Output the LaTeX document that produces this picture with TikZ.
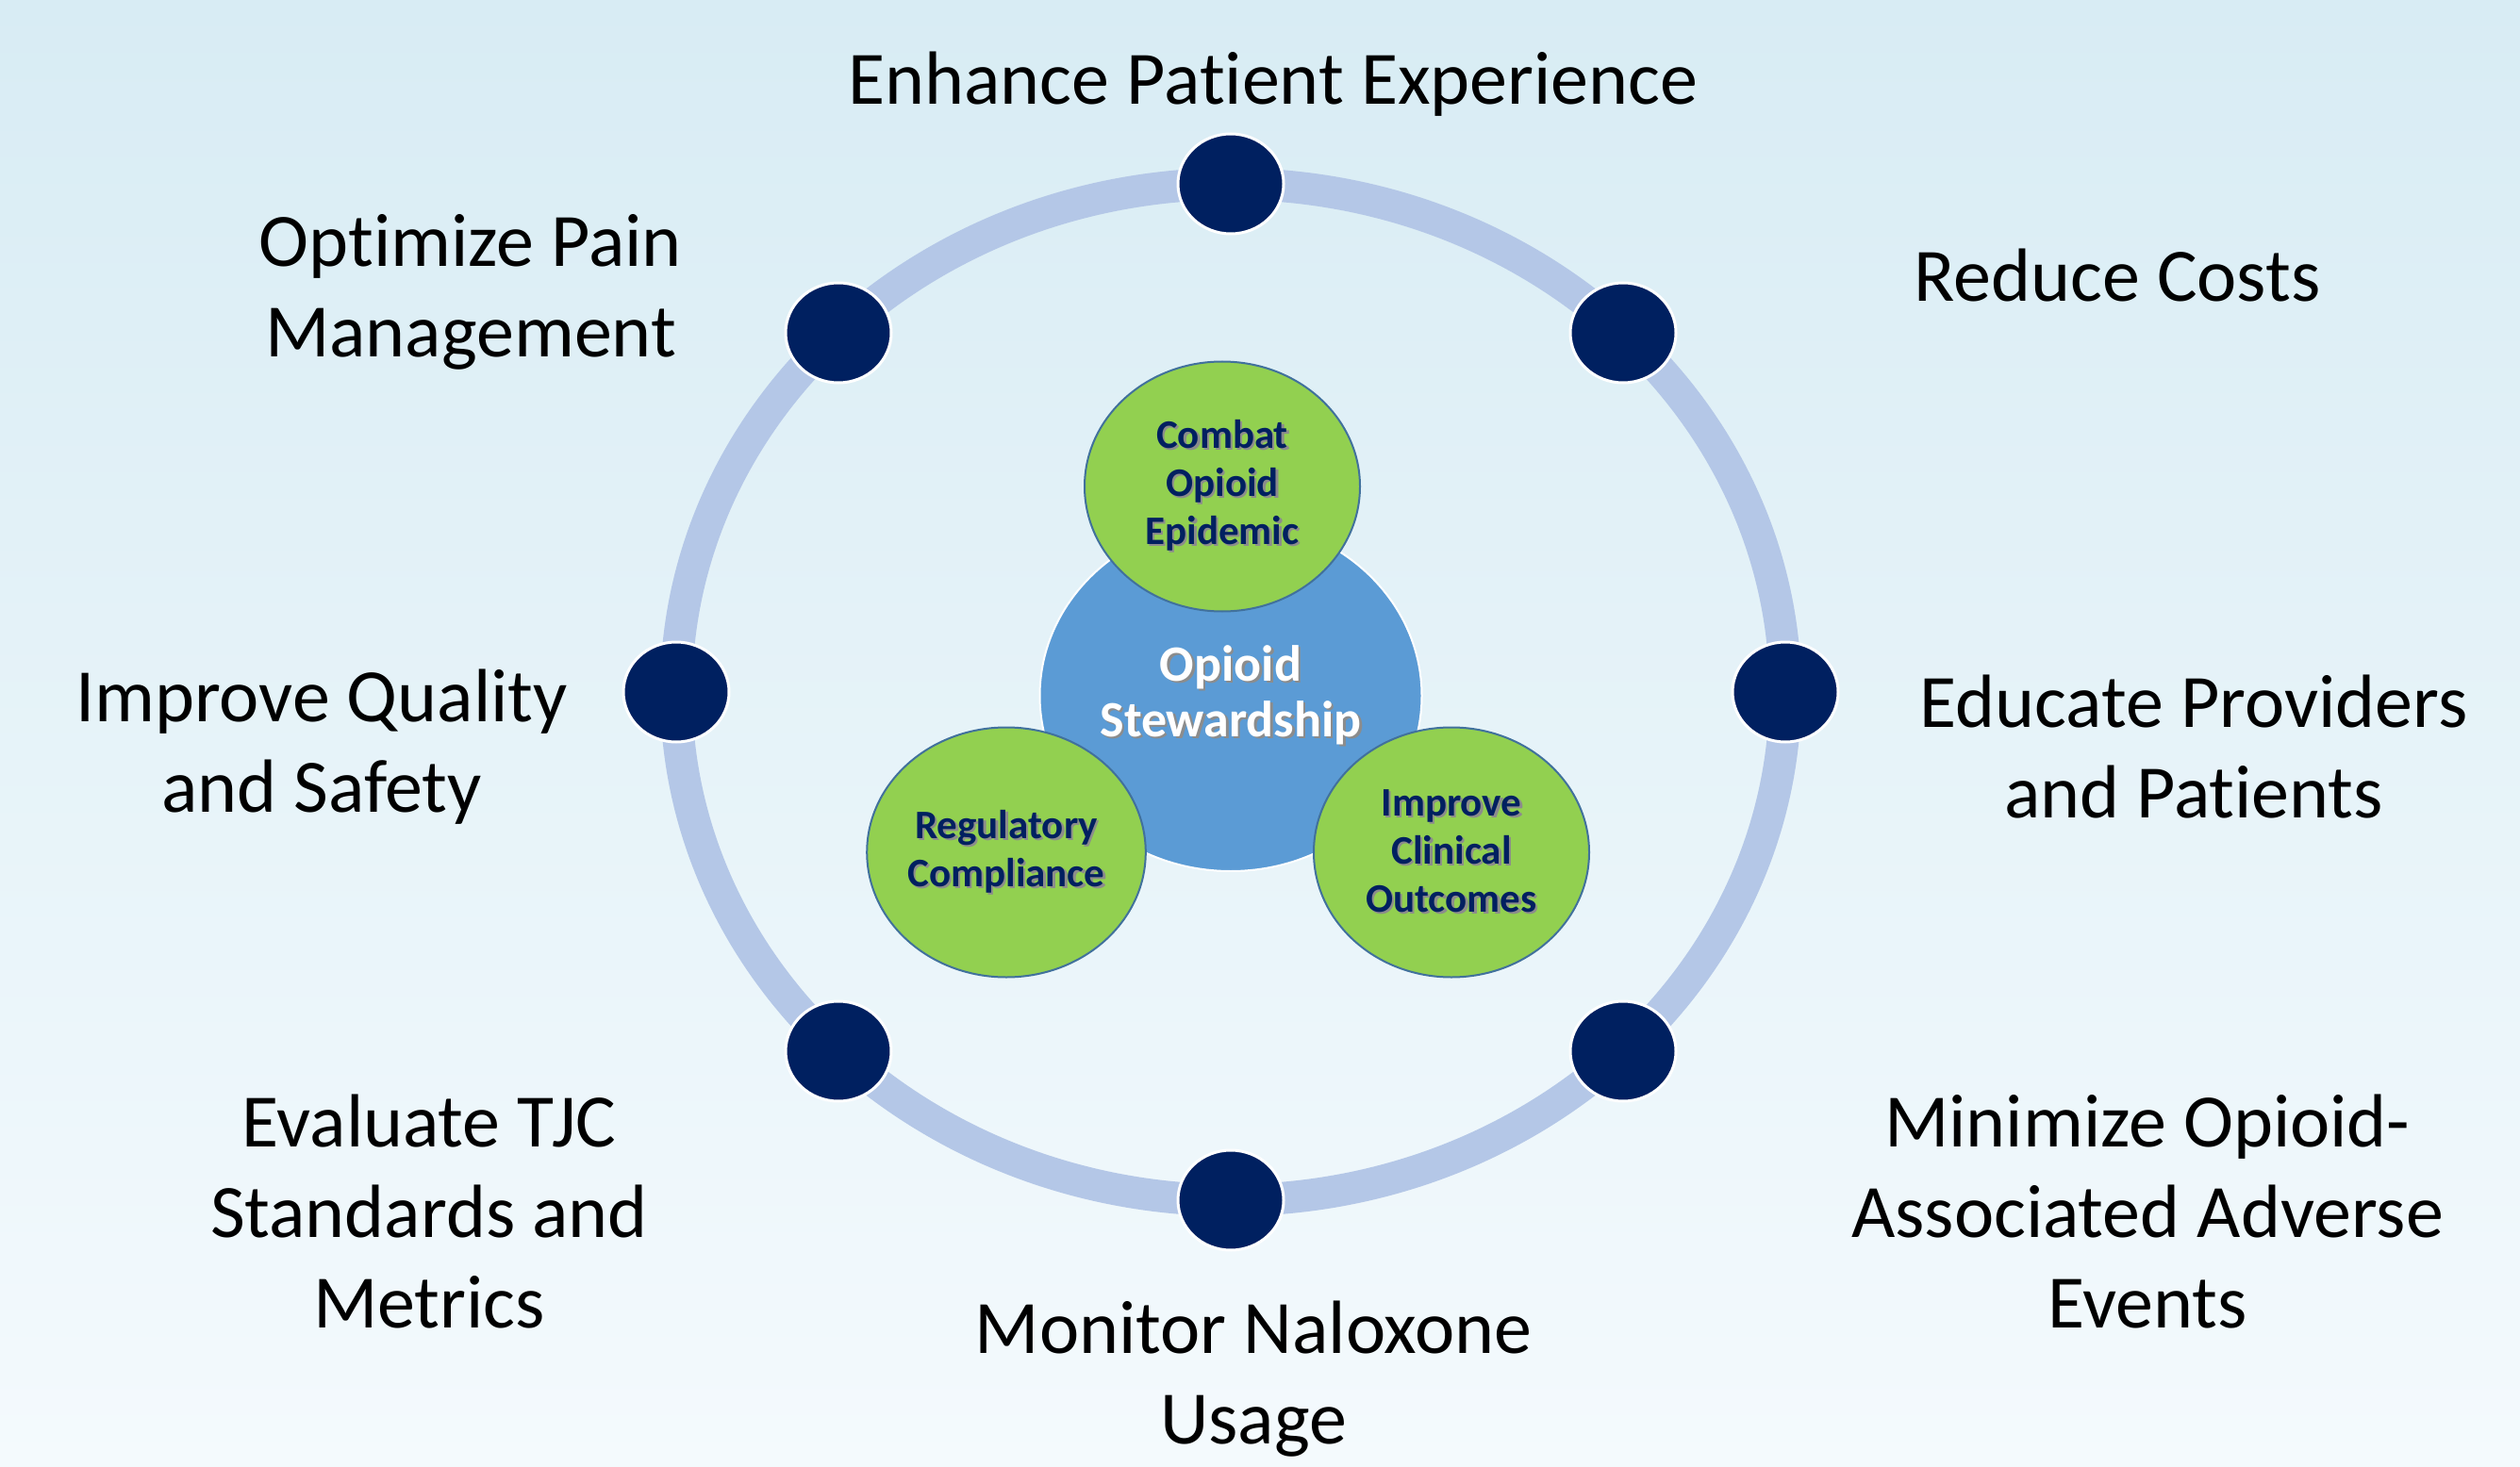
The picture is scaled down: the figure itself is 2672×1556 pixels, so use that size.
\documentclass[tikz,border=0pt]{standalone}
\usepackage{fontspec}
\setmainfont{Carlito}[Ligatures={NoCommon}]
\usetikzlibrary{shapes.geometric}
\definecolor{bgtop}{HTML}{D8ECF4}
\definecolor{bgbot}{HTML}{F4FAFD}
\definecolor{ringcol}{HTML}{B4C7E7}
\definecolor{dotcol}{HTML}{002060}
\definecolor{bluecol}{HTML}{5B9BD5}
\definecolor{greencol}{HTML}{92D050}
\definecolor{greenedge}{HTML}{41719C}
\definecolor{navytext}{HTML}{002060}
\newcommand\txsh[1]{\makebox[0pt][l]{\hspace{1.2pt}\raisebox{-1.2pt}{\textcolor{black!45}{#1}}}#1}
\tikzset{
  dotnode/.style={ellipse, fill=dotcol, draw=white, line width=1.5pt, minimum width=56pt, minimum height=53pt, inner sep=0pt},
  greennode/.style={ellipse, fill=greencol, draw=greenedge, line width=1pt, minimum width=146pt, minimum height=132.5pt, inner sep=0pt, align=center, text=navytext, font=\fontsize{21.5}{25.5}\selectfont\bfseries},
  bluenode/.style={ellipse, fill=bluecol, draw=white, line width=1pt, minimum width=202.5pt, minimum height=186pt, inner sep=0pt, align=center, text=white, font=\fontsize{27}{29.5}\selectfont\bfseries},
  outertext/.style={align=center, text=black, font=\fontsize{40}{48}\selectfont, inner sep=0pt}
}
\begin{document}
\begin{tikzpicture}[x=0.5pt, y=-0.5pt]
\useasboundingbox (0,0) rectangle (2672,1556);
\shade[top color=bgtop, bottom color=bgbot] (0,0) rectangle (2672,1556);
% ring
\coordinate (ctr) at (1305,734);
\draw[ringcol, line width=17pt] (ctr) ellipse [x radius=588, y radius=539];
% dots
\node[dotnode] (d0) at (1305,195) {};
\node[dotnode] (d1) at (1721,353) {};
\node[dotnode] (d2) at (1893,734) {};
\node[dotnode] (d3) at (1721,1115) {};
\node[dotnode] (d4) at (1305,1273) {};
\node[dotnode] (d5) at (889,1115) {};
\node[dotnode] (d6) at (717,734) {};
\node[dotnode] (d7) at (889,353) {};
% center
\node[bluenode] (core) at (1305,738) {\txsh{Opioid}\\\txsh{Stewardship}};
\node[greennode] (combat) at (1296,516) {\txsh{Combat}\\\txsh{Opioid}\\\txsh{Epidemic}};
\node[greennode] (reg) at (1067,904) {\txsh{Regulatory}\\\txsh{Compliance}};
\node[greennode] (clin) at (1539,904) {\txsh{Improve}\\\txsh{Clinical}\\\txsh{Outcomes}};
% outer labels
\node[outertext] (t0) at (1350,89) {Enhance Patient Experience};
\node[outertext] (t1) at (2245,292) {Reduce Costs};
\node[outertext] (t2) at (2326,792) {Educate Providers\\and Patients};
\node[outertext] (t3) at (2277,1285) {Minimize Opioid-\\Associated Adverse\\Events};
\node[outertext] (t4) at (1329,1463) {Monitor Naloxone\\Usage};
\node[outertext] (t5) at (455,1285) {Evaluate TJC\\Standards and\\Metrics};
\node[outertext] (t6) at (341,792) {Improve Quality\\and Safety};
\node[outertext] (t7) at (499,310) {Optimize Pain\\Management};
\end{tikzpicture}
\end{document}
